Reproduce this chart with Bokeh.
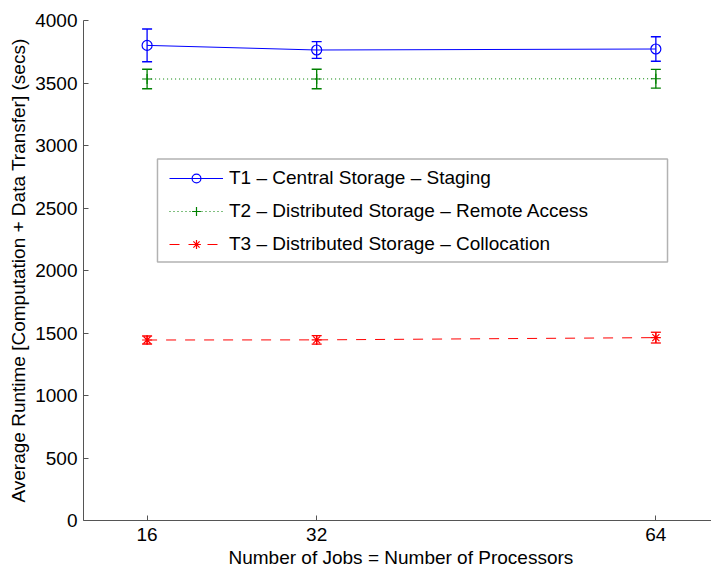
from bokeh.plotting import figure
from bokeh.models import (Whisker, ColumnDataSource, Legend, LegendItem, Title,
                          FixedTicker, TeeHead, Range1d, BoxAnnotation)
from bokeh.embed import file_html
from bokeh.resources import INLINE

jobs = [16, 32, 64]
t1_mean = [3801, 3764, 3772]
t1_err = [131, 67, 98]
t2_mean = [3532, 3532, 3534]
t2_err = [78, 78, 75]
t3_mean = [1444, 1445, 1463]
t3_err = [32, 34, 43]

x_ticks = [16, 32, 64]
y_ticks = list(range(0, 4001, 500))

labels = ["T1 \u2013 Central Storage \u2013 Staging",
          "T2 \u2013 Distributed Storage \u2013 Remote Access",
          "T3 \u2013 Distributed Storage \u2013 Collocation"]
x_label = "Number of Jobs = Number of Processors"
y_label = "Average Runtime [Computation + Data Transfer] (secs)"

FONT = "Liberation Sans"
FS = "19px"

p = figure(width=711, height=570, output_backend="svg", toolbar_location=None,
           x_range=Range1d(10, 69.25), y_range=Range1d(0, 4000),
           min_border_left=83, min_border_right=0, min_border_top=20,
           min_border_bottom=50)
p.outline_line_color = None
p.xgrid.visible = False
p.ygrid.visible = False

series = [
    (t1_mean, t1_err, "#0000ff", "solid", "circle"),
    (t2_mean, t2_err, "#008000", "1 3", "cross"),
    (t3_mean, t3_err, "#ff0000", "10 9", "asterisk"),
]

# legend frame (MATLAB-style wide box)
p.add_layout(BoxAnnotation(left=16.98, right=65.1, bottom=2068, top=2892,
                           fill_color="white", fill_alpha=1.0,
                           line_color="black", line_width=1.5))

items = []
for (m, e, c, dash, mk), lab in zip(series, labels):
    src = ColumnDataSource(dict(x=jobs, y=m,
                                upper=[a + b for a, b in zip(m, e)],
                                lower=[a - b for a, b in zip(m, e)]))
    ln = p.line("x", "y", source=src, line_color=c, line_width=1, line_dash=dash)
    sc = p.scatter("x", "y", source=src, marker=mk, size=10, line_color=c,
                   fill_color=None, line_width=1.2)
    w = Whisker(base="x", upper="upper", lower="lower", source=src,
                line_color=c, line_width=1.3,
                upper_head=TeeHead(size=10, line_color=c, line_width=1.3),
                lower_head=TeeHead(size=10, line_color=c, line_width=1.3))
    p.add_layout(w)
    items.append(LegendItem(label=lab, renderers=[ln, sc]))

legend = Legend(items=items, location=(86, 265), border_line_color=None,
                background_fill_alpha=0.0,
                label_text_font=FONT, label_text_font_size=FS,
                label_text_color="black",
                glyph_width=54, glyph_height=22, label_height=22,
                spacing=11, padding=8, label_standoff=6, margin=0)
p.add_layout(legend, "center")

for ax in (p.xaxis[0], p.yaxis[0]):
    ax.major_tick_in = 5
    ax.major_tick_out = 0
    ax.minor_tick_line_color = None
    ax.axis_line_color = "#555555"
    ax.major_tick_line_color = "#555555"
    ax.major_label_text_font = FONT
    ax.major_label_text_font_size = FS
    ax.major_label_text_color = "black"
    ax.axis_label_text_font = FONT
    ax.axis_label_text_font_size = FS
    ax.axis_label_text_font_style = "normal"
    ax.axis_label_text_color = "black"

p.xaxis.ticker = FixedTicker(ticks=x_ticks)
p.yaxis.ticker = FixedTicker(ticks=y_ticks)
p.xaxis.major_label_standoff = 7
p.yaxis.major_label_standoff = 6
p.yaxis.axis_label = y_label
p.yaxis.axis_label_standoff = 3

p.add_layout(Title(text=x_label, align="left", offset=145, text_font=FONT,
                   text_font_size=FS, text_font_style="normal",
                   text_color="black", standoff=2), "below")

open("out.html", "w").write(file_html(p, INLINE))
